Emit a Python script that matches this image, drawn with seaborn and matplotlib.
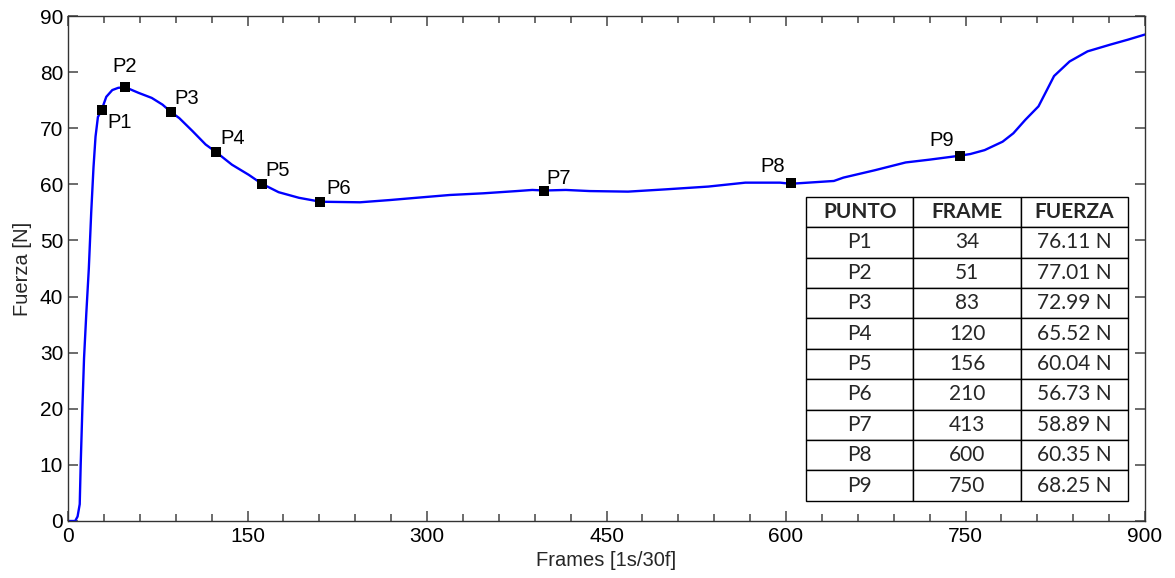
import matplotlib
matplotlib.use("Agg")
import matplotlib.pyplot as plt
import seaborn as sns
import numpy as np
import pandas as pd

# ---- data ----
frames = [0, 6, 8, 9.8, 10.6, 12, 13.4, 15.3, 17.4, 19.4, 21.3, 23, 25, 28, 32, 37, 42, 48,
          59, 70, 79, 86, 93, 104, 115, 124, 137, 151, 162, 176, 193, 211, 244, 269, 291,
          319, 347, 375, 388, 398, 416, 436, 468, 499, 535, 566, 595, 604, 640, 648, 674,
          700, 720, 738, 745, 754, 766, 781, 790, 800, 811, 818, 824, 837, 852, 871, 886, 900]
fuerza = [0, 0, 0.8, 3, 10, 20, 29, 37, 45, 55, 63, 68.5, 72, 73.2, 75.6, 76.8, 77.2, 77.3,
          76.3, 75.4, 74.2, 72.9, 71.8, 69.5, 67.1, 65.7, 63.5, 61.7, 60.1, 58.6, 57.6, 56.9,
          56.8, 57.2, 57.6, 58.1, 58.4, 58.8, 59.0, 58.9, 59.0, 58.8, 58.7, 59.1, 59.6, 60.3,
          60.3, 60.1, 60.6, 61.2, 62.5, 63.9, 64.4, 64.9, 65.1, 65.4, 66.1, 67.6, 69.1, 71.5,
          73.9, 76.8, 79.3, 81.9, 83.7, 84.9, 85.8, 86.7]

point_names = ["P1", "P2", "P3", "P4", "P5", "P6", "P7", "P8", "P9"]
point_x = [28.3, 47.5, 85.8, 123.5, 161.8, 211, 397.8, 604, 745]
point_y = [73.2, 77.3, 72.9, 65.7, 60.1, 56.9, 58.9, 60.2, 65.1]

table_cols = ["PUNTO", "FRAME", "FUERZA"]
table_frame = ["34", "51", "83", "120", "156", "210", "413", "600", "750"]
table_fuerza = ["76.11 N", "77.01 N", "72.99 N", "65.52 N", "60.04 N", "56.73 N",
                "58.89 N", "60.35 N", "68.25 N"]

x_ticks = [0, 150, 300, 450, 600, 750, 900]
x_minor_ticks = [30, 60, 90, 120, 180, 210, 240, 270, 330, 360, 390, 420, 480, 510, 540,
                 570, 630, 660, 690, 720, 780, 810, 840, 870]
y_ticks = [0, 10, 20, 30, 40, 50, 60, 70, 80, 90]

# ---- style ----
sns.set_style("ticks")
plt.rcParams["font.family"] = ["Liberation Sans", "DejaVu Sans"]

W, H = 1175, 578
fig = plt.figure(figsize=(W / 100, H / 100), dpi=100)
ax = fig.add_axes([68 / W, (H - 521) / H, 1077 / W, 505 / H])

curve = pd.DataFrame({"Frames": frames, "Fuerza": fuerza})
pts = pd.DataFrame({"x": point_x, "y": point_y, "name": point_names})

sns.lineplot(data=curve, x="Frames", y="Fuerza", ax=ax, color="#0000ff",
             linewidth=1.7, estimator=None, sort=False)
sns.scatterplot(data=pts, x="x", y="y", ax=ax, marker="s", s=45, color="black",
                edgecolor="black", linewidth=0, zorder=5)

# label offsets in points (dx, dy, ha, va)
offsets = {
    "P1": (4, -9, "left", "center"),
    "P2": (0, 8, "center", "bottom"),
    "P3": (3, 3, "left", "bottom"),
    "P4": (3, 3, "left", "bottom"),
    "P5": (3, 3, "left", "bottom"),
    "P6": (4, 3, "left", "bottom"),
    "P7": (2, 2, "left", "bottom"),
    "P8": (-4, 5, "right", "bottom"),
    "P9": (-4, 4, "right", "bottom"),
}
for n, x, y in zip(point_names, point_x, point_y):
    dx, dy, ha, va = offsets[n]
    ax.annotate(n, (x, y), xytext=(dx, dy), textcoords="offset points",
                ha=ha, va=va, fontsize=14.5, color="black")

ax.set_xlim(0, 900)
ax.set_ylim(0, 90)
ax.set_xticks(x_ticks)
ax.set_xticks(x_minor_ticks, minor=True)
ax.set_yticks(y_ticks)
ax.tick_params(axis="both", which="major", direction="in", top=True, right=True,
               bottom=True, left=True, colors="#444444", labelcolor="black",
               labelsize=15, length=7.5, width=1.1)
ax.tick_params(axis="x", which="minor", direction="in", top=True, bottom=True,
               length=5, width=1.1, color="#444444")
ax.tick_params(axis="x", which="major", pad=4)
ax.tick_params(axis="y", which="major", pad=3.5)
for sp in ax.spines.values():
    sp.set_visible(True)
    sp.set_color("#333333")
    sp.set_linewidth(1.0)

ax.set_xlabel("Frames [1s/30f]", fontsize=14.5)
ax.set_ylabel("Fuerza [N]", fontsize=14.5)
ax.xaxis.set_label_coords(0.5, -0.060)
ax.yaxis.set_label_coords(-0.0335, 0.5)

# ---- inset table ----
cell_text = [[n, f, v] for n, f, v in zip(point_names, table_frame, table_fuerza)]
tbl = ax.table(cellText=cell_text, colLabels=table_cols, cellLoc="center",
               bbox=[(806 - 68) / 1077, (521 - 500.7) / 505, 322 / 1077, 304 / 505],
               zorder=10)
tbl.auto_set_font_size(False)
for (r, c), cell in tbl.get_celld().items():
    cell.set_edgecolor("black")
    cell.set_linewidth(1.0)
    cell.set_facecolor("white")
    txt = cell.get_text()
    txt.set_fontfamily(["Lato", "DejaVu Sans"])
    txt.set_fontsize(15)
    if r == 0:
        txt.set_fontweight("bold")

fig.savefig("out.png", dpi=100)
